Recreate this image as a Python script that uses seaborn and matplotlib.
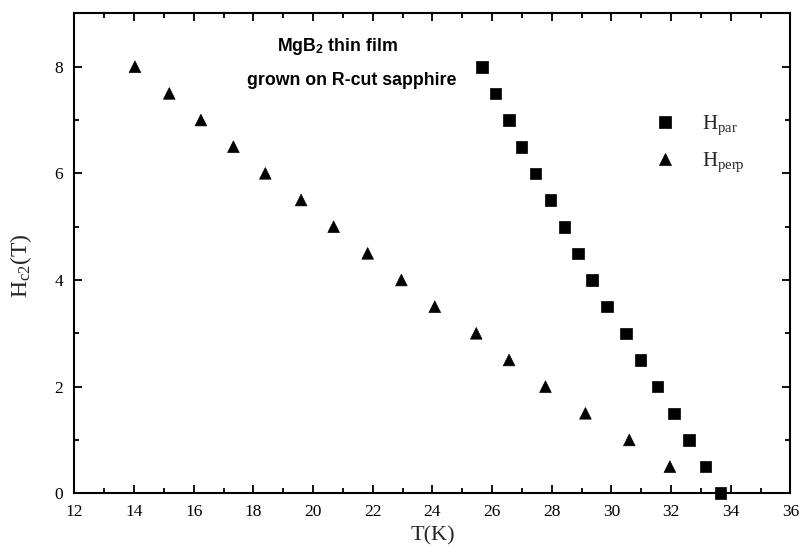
import matplotlib
matplotlib.use("Agg")
import matplotlib.pyplot as plt
import seaborn as sns
import pandas as pd
from matplotlib.ticker import MultipleLocator

# Data
h_par = [8.0, 7.5, 7.0, 6.5, 6.0, 5.5, 5.0, 4.5, 4.0, 3.5, 3.0, 2.5, 2.0, 1.5, 1.0, 0.5, 0.0]
t_par = [25.67, 26.12, 26.57, 26.99, 27.46, 27.96, 28.43, 28.89, 29.36, 29.86,
         30.49, 30.98, 31.54, 32.10, 32.60, 33.16, 33.66]
h_perp = [8.0, 7.5, 7.0, 6.5, 6.0, 5.5, 5.0, 4.5, 4.0, 3.5, 3.0, 2.5, 2.0, 1.5, 1.0, 0.5]
t_perp = [14.03, 15.18, 16.24, 17.33, 18.40, 19.60, 20.69, 21.83, 22.96, 24.08,
          25.47, 26.57, 27.79, 29.13, 30.60, 31.96]
series_labels = [r"H$_{\mathrm{par}}$", r"H$_{\mathrm{perp}}$"]
x_ticks = list(range(12, 37, 2))
y_ticks = [0, 2, 4, 6, 8]

df = pd.DataFrame({
    "T": t_par + t_perp,
    "H": h_par + h_perp,
    "series": [series_labels[0]] * len(t_par) + [series_labels[1]] * len(t_perp),
})

sns.set_style("ticks")
plt.rcParams["font.family"] = ["Liberation Serif", "DejaVu Serif"]
plt.rcParams["mathtext.fontset"] = "custom"
plt.rcParams["mathtext.rm"] = "Liberation Serif"
plt.rcParams["mathtext.it"] = "Liberation Serif:italic"
plt.rcParams["mathtext.bf"] = "Liberation Sans:bold"

fig = plt.figure(figsize=(8.0, 5.48), dpi=100)
ax = fig.add_axes([0.093, 0.0998, 0.895, 0.8757])

sns.scatterplot(data=df, x="T", y="H", hue="series", style="series",
                markers={series_labels[0]: "s", series_labels[1]: "^"},
                palette={series_labels[0]: "black", series_labels[1]: "black"},
                s=70, edgecolor="black", linewidth=0.5, ax=ax, clip_on=False, zorder=3)

ax.set_xlim(12, 36)
ax.set_ylim(0, 9)
ax.set_xticks(x_ticks)
ax.set_yticks(y_ticks)
ax.xaxis.set_minor_locator(MultipleLocator(1))
ax.yaxis.set_minor_locator(MultipleLocator(1))
ax.tick_params(which="both", direction="in", top=True, right=True, width=1.3, colors="black")
ax.tick_params(which="major", length=6, labelsize=12.5, pad=8)
ax.tick_params(which="minor", length=3.5)
for sp in ax.spines.values():
    sp.set_linewidth(1.5)
    sp.set_color("black")

ax.set_xlabel("T(K)", fontsize=16, labelpad=4)
ax.set_ylabel(r"H$_{\mathrm{c2}}$(T)", fontsize=17)
ax.yaxis.set_label_coords(-0.056, 0.475)

ax.text(0.367, 0.932, r"MgB$_{\mathbf{2}}$ thin film", transform=ax.transAxes,
        ha="center", va="center", fontsize=12.8, fontweight="bold", color="black",
        family=["Liberation Sans", "DejaVu Sans"])
ax.text(0.388, 0.861, "grown on R-cut sapphire", transform=ax.transAxes,
        ha="center", va="center", fontsize=12.8, fontweight="bold", color="black",
        family=["Liberation Sans", "DejaVu Sans"])

leg = ax.legend(loc="upper left", bbox_to_anchor=(0.769, 0.83), frameon=False,
                fontsize=15, handletextpad=0.8, labelspacing=0.65, markerscale=1.0,
                title=None)

fig.savefig("out.png", dpi=100)
